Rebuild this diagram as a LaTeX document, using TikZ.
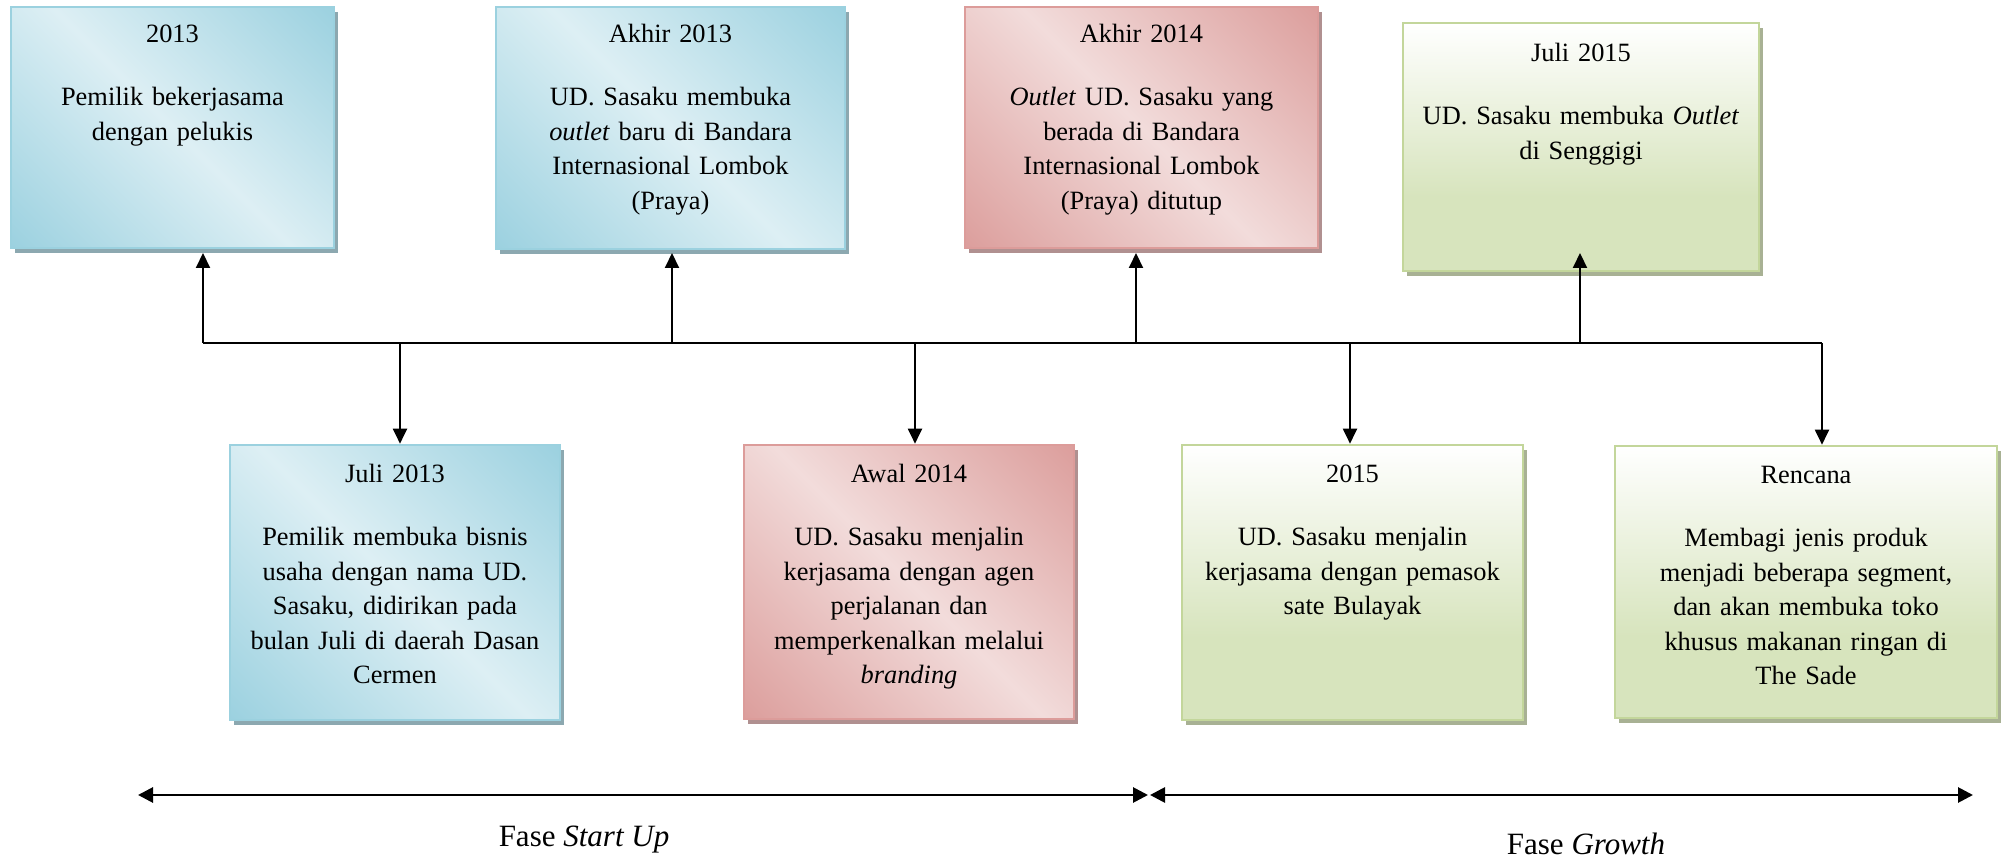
\documentclass[tikz,border=0pt]{standalone}
\usepackage{fontspec}
\setmainfont{Liberation Serif}
\usetikzlibrary{arrows.meta,shadows}
\definecolor{bdark}{HTML}{93CDDD}
\definecolor{blight}{HTML}{DDEFF4}
\definecolor{bborder}{HTML}{9BD1DF}
\definecolor{bshadow}{HTML}{8CA8B0}
\definecolor{rdark}{HTML}{D99694}
\definecolor{rlight}{HTML}{F2DCDB}
\definecolor{rborder}{HTML}{DC9C9A}
\definecolor{rshadow}{HTML}{B09090}
\definecolor{gdark}{HTML}{D7E4BD}
\definecolor{gborder}{HTML}{C3D69B}
\definecolor{gshadow}{HTML}{A8B194}
\pgfdeclarehorizontalshading{bluemirror}{100bp}{color(0bp)=(bdark); color(10bp)=(bdark); color(50bp)=(blight); color(90bp)=(bdark); color(100bp)=(bdark)}
\pgfdeclarehorizontalshading{redmirror}{100bp}{color(0bp)=(rdark); color(10bp)=(rdark); color(50bp)=(rlight); color(90bp)=(rdark); color(100bp)=(rdark)}
\pgfdeclareverticalshading{greenfade}{100bp}{color(0bp)=(gdark); color(40bp)=(gdark); color(75bp)=(white); color(100bp)=(white)}
\tikzset{
  box/.style={rectangle, inner sep=0pt, line width=1.3pt},
  bluebox/.style={box, draw=bborder, shade, shading=bluemirror, shading angle=45,
    drop shadow={shadow xshift=2pt, shadow yshift=-2.5pt, fill=bshadow, opacity=1}},
  redbox/.style={box, draw=rborder, shade, shading=redmirror, shading angle=45,
    drop shadow={shadow xshift=2pt, shadow yshift=-2.5pt, fill=rshadow, opacity=1}},
  greenbox/.style={box, draw=gborder, shade, shading=greenfade,
    drop shadow={shadow xshift=2pt, shadow yshift=-2.5pt, fill=gshadow, opacity=1}},
  txt/.style={anchor=north, inner sep=0pt, align=center,
    font=\fontsize{13.2}{17.25}\selectfont},
  conn/.style={line width=1pt, -{Triangle[length=7.5pt,width=7pt]}},
  line/.style={line width=1pt},
  phase/.style={line width=1.4pt, {Triangle[length=7.5pt,width=7.5pt]}-{Triangle[length=7.5pt,width=7.5pt]}},
  phaselabel/.style={inner sep=0pt, font=\fontsize{15.5}{18}\selectfont}
}
\newcommand{\ttl}[1]{\strut#1\\[14.5pt]}
\begin{document}
\begin{tikzpicture}[x=0.5pt,y=-0.5pt]
\useasboundingbox (0,0) rectangle (2004,860);
% upper boxes
\node[bluebox, minimum width=161.5pt, minimum height=120.5pt] (b1) at (172.5,127.5) {};
\node[bluebox, minimum width=174.5pt, minimum height=121pt] (b2) at (670.5,128) {};
\node[redbox, minimum width=176.5pt, minimum height=120.5pt] (b3) at (1141.5,127.5) {};
\node[greenbox, minimum width=178pt, minimum height=124pt] (b4) at (1581,147) {};
% lower boxes
\node[bluebox, minimum width=165pt, minimum height=137.5pt] (b5) at (395,582.5) {};
\node[redbox, minimum width=165pt, minimum height=137pt] (b6) at (909,582) {};
\node[greenbox, minimum width=170.5pt, minimum height=137.5pt] (b7) at (1352.5,582.5) {};
\node[greenbox, minimum width=191pt, minimum height=136pt] (b8) at (1806,582) {};
% texts
\node[txt, text width=155pt] (t1) at ([yshift=-6pt]b1.north) {\ttl{2013}Pemilik bekerjasama\\dengan pelukis};
\node[txt, text width=168pt] (t2) at ([yshift=-6pt]b2.north) {\ttl{Akhir 2013}UD. Sasaku membuka\\\textit{outlet} baru di Bandara\\Internasional Lombok\\(Praya)};
\node[txt, text width=170pt] (t3) at ([yshift=-6pt]b3.north) {\ttl{Akhir 2014}\textit{Outlet} UD. Sasaku yang\\berada di Bandara\\Internasional Lombok\\(Praya) ditutup};
\node[txt, text width=172pt] (t4) at ([yshift=-7.5pt]b4.north) {\ttl{Juli 2015}UD. Sasaku membuka \textit{Outlet}\\di Senggigi};
\node[txt, text width=159pt] (t5) at ([yshift=-7pt]b5.north) {\ttl{Juli 2013}Pemilik membuka bisnis\\usaha dengan nama UD.\\Sasaku, didirikan pada\\bulan Juli di daerah Dasan\\Cermen};
\node[txt, text width=159pt] (t6) at ([yshift=-7pt]b6.north) {\ttl{Awal 2014}UD. Sasaku menjalin\\kerjasama dengan agen\\perjalanan dan\\memperkenalkan melalui\\\textit{branding}};
\node[txt, text width=164pt] (t7) at ([yshift=-7pt]b7.north) {\ttl{2015}UD. Sasaku menjalin\\kerjasama dengan pemasok\\sate Bulayak};
\node[txt, text width=185pt] (t8) at ([yshift=-7pt]b8.north) {\ttl{Rencana}Membagi jenis produk\\menjadi beberapa segment,\\dan akan membuka toko\\khusus makanan ringan di\\The Sade};
% trunk
\coordinate (c1) at (203,343);
\coordinate (c5) at (400,343);
\coordinate (c2) at (672,343);
\coordinate (c6) at (915,343);
\coordinate (c3) at (1136,343);
\coordinate (c7) at (1350,343);
\coordinate (c4) at (1580,343);
\coordinate (c8) at (1822,343);
\coordinate (upend) at (0,253);
\draw[line] (c1) -- (c8);
\draw[conn] (c1) -- (c1 |- upend);
\draw[conn] (c2) -- (c2 |- upend);
\draw[conn] (c3) -- (c3 |- upend);
\draw[conn] (c4) -- (c4 |- upend);
\draw[conn] (c5) -- (c5 |- b5.north);
\draw[conn] (c6) -- (c6 |- b6.north);
\draw[conn] (c7) -- (c7 |- b7.north);
\draw[conn] (c8) -- (c8 |- b8.north);
% phases
\coordinate (p1) at (138,795);
\coordinate (p2) at (1148,795);
\coordinate (p3) at (1150,795);
\coordinate (p4) at (1973,795);
\draw[phase] (p1) -- (p2);
\draw[phase] (p3) -- (p4);
\node[phaselabel] (f1) at (584,840) {Fase \textit{Start Up}};
\node[phaselabel] (f2) at (1586,844) {Fase \textit{Growth}};
\end{tikzpicture}
\end{document}
